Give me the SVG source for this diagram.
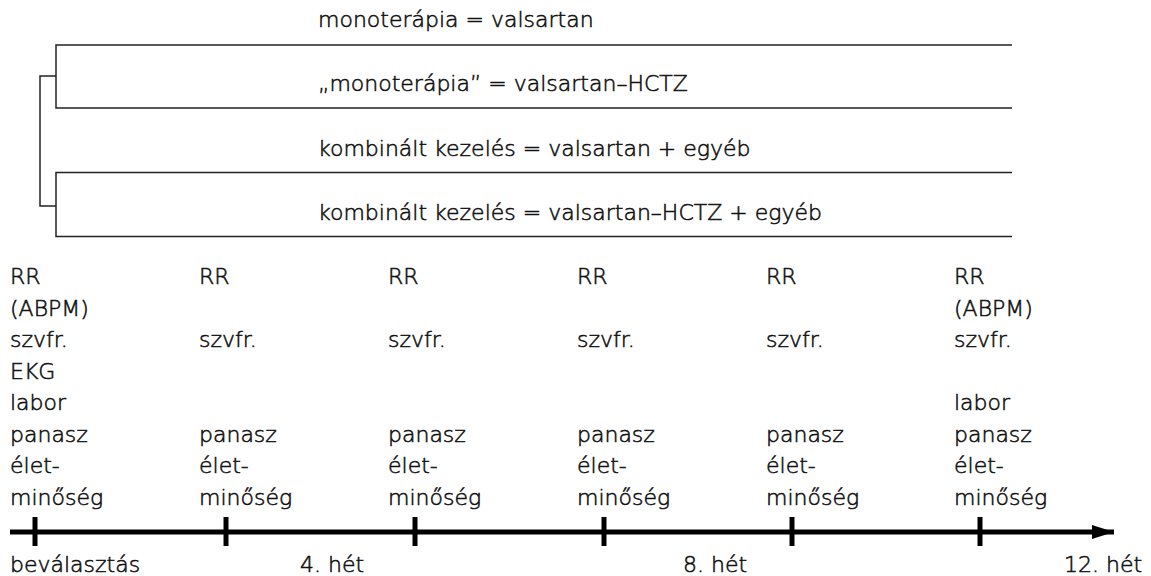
<svg xmlns="http://www.w3.org/2000/svg" width="1151" height="576" viewBox="0 0 1151 576">
  <style>
    text { font-family: "DejaVu Sans", "Liberation Sans", sans-serif; font-size: 22px; font-weight: 200; fill: #111; stroke: #111; stroke-width: 0.55; }
    .rule { stroke: #222; stroke-width: 1.5; fill: none; }
    .axis { stroke: #000; stroke-width: 5; fill: none; }
    .tick { stroke: #000; stroke-width: 5; }
  </style>
  <defs>
    <marker id="arrow" markerUnits="userSpaceOnUse" markerWidth="24" markerHeight="16" refX="22" refY="7" orient="auto">
      <path d="M0,0 L22,7 L0,14 Z" fill="#000"/>
    </marker>
  </defs>

  <!-- treatment arms -->
  <g id="arm-mono">
    <text x="318" y="27">monoterápia = valsartan</text>
  </g>
  <g id="arm-mono-hctz">
    <text x="318" y="91">„monoterápia” = valsartan–HCTZ</text>
  </g>
  <g id="arm-komb">
    <text x="318" y="156">kombinált kezelés = valsartan + egyéb</text>
  </g>
  <g id="arm-komb-hctz">
    <text x="318" y="220">kombinált kezelés = valsartan–HCTZ + egyéb</text>
  </g>

  <!-- arm separators and brackets -->
  <g id="connectors">
    <path class="rule" d="M1012,45 H56 V108 H1012"/>
    <path class="rule" d="M1012,172.5 H56 V236.5 H1012"/>
    <path class="rule" d="M56,76 H40 V206 H56"/>
  </g>

  <!-- visits -->
  <g id="visit-0">
    <text x="10" y="284">RR</text>
    <text x="10" y="315.5">(ABPM)</text>
    <text x="10" y="347">szvfr.</text>
    <text x="10" y="378.5">EKG</text>
    <text x="10" y="410">labor</text>
    <text x="10" y="441.5">panasz</text>
    <text x="10" y="473">élet-</text>
    <text x="10" y="504.5">minőség</text>
  </g>
  <g id="visit-2">
    <text x="199" y="284">RR</text>
    <text x="199" y="347">szvfr.</text>
    <text x="199" y="441.5">panasz</text>
    <text x="199" y="473">élet-</text>
    <text x="199" y="504.5">minőség</text>
  </g>
  <g id="visit-4">
    <text x="388" y="284">RR</text>
    <text x="388" y="347">szvfr.</text>
    <text x="388" y="441.5">panasz</text>
    <text x="388" y="473">élet-</text>
    <text x="388" y="504.5">minőség</text>
  </g>
  <g id="visit-6">
    <text x="577" y="284">RR</text>
    <text x="577" y="347">szvfr.</text>
    <text x="577" y="441.5">panasz</text>
    <text x="577" y="473">élet-</text>
    <text x="577" y="504.5">minőség</text>
  </g>
  <g id="visit-8">
    <text x="766" y="284">RR</text>
    <text x="766" y="347">szvfr.</text>
    <text x="766" y="441.5">panasz</text>
    <text x="766" y="473">élet-</text>
    <text x="766" y="504.5">minőség</text>
  </g>
  <g id="visit-12">
    <text x="954" y="284">RR</text>
    <text x="954" y="315.5">(ABPM)</text>
    <text x="954" y="347">szvfr.</text>
    <text x="954" y="410">labor</text>
    <text x="954" y="441.5">panasz</text>
    <text x="954" y="473">élet-</text>
    <text x="954" y="504.5">minőség</text>
  </g>

  <!-- time axis -->
  <g id="axis">
    <line class="axis" x1="10" y1="532" x2="1114" y2="532" marker-end="url(#arrow)"/>
    <line class="tick" x1="35" y1="517" x2="35" y2="546"/>
    <line class="tick" x1="226" y1="517" x2="226" y2="546"/>
    <line class="tick" x1="415" y1="517" x2="415" y2="546"/>
    <line class="tick" x1="604" y1="517" x2="604" y2="546"/>
    <line class="tick" x1="792" y1="517" x2="792" y2="546"/>
    <line class="tick" x1="980" y1="517" x2="980" y2="546"/>
  </g>
  <g id="axis-labels">
    <text x="10" y="572">beválasztás</text>
    <text x="300" y="572">4. hét</text>
    <text x="683" y="572">8. hét</text>
    <text x="1064" y="572">12. hét</text>
  </g>
</svg>
